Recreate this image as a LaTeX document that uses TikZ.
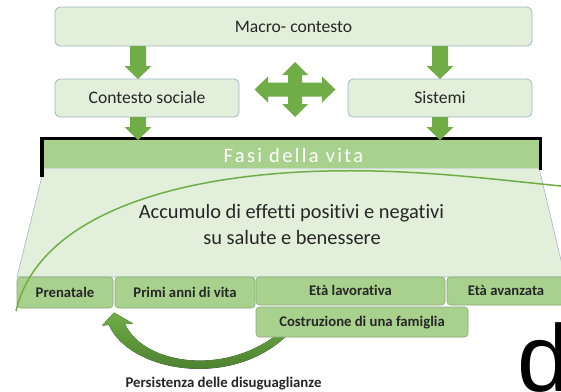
\documentclass[tikz,border=0pt]{standalone}
\usepackage{fontspec}
\setmainfont{Carlito}[Ligatures=NoCommon]
\newfontfamily\fasifont{Carlito}[LetterSpace=11.5, Ligatures=NoCommon]
\newfontfamily\bigsans{Liberation Sans}
\usetikzlibrary{calc}
\definecolor{lightfill}{HTML}{E2EFDA}
\definecolor{boxborder}{HTML}{A3B7CB}
\definecolor{arrowgreen}{HTML}{70AD47}
\definecolor{midgreen}{HTML}{A9D18E}
\definecolor{phaseborder}{HTML}{8AA87A}
\definecolor{textgray}{HTML}{262626}
\definecolor{darkarrow}{HTML}{3F7027}
\newcommand\blockdown[2]{%
  \fill[arrowgreen] let \p1=#1, \p2=#2 in
    (\x1-8pt,\y1) -- (\x1+8pt,\y1) -- (\x1+8pt,\y2+13pt) -- (\x1+13.5pt,\y2+13pt)
    -- (\x2,\y2) -- (\x1-13.5pt,\y2+13pt) -- (\x1-8pt,\y2+13pt) -- cycle;}
\tikzset{
  topbox/.style={draw=boxborder, line width=0.8pt, fill=lightfill, rounded corners=5pt,
    inner sep=0pt, outer sep=0pt, text=textgray,
    font=\fontsize{17.6}{20}\selectfont, text height=11.3pt, text depth=0pt},
  phasebox/.style={draw=phaseborder, line width=0.6pt, fill=midgreen, rounded corners=3.5pt,
    inner sep=0pt, outer sep=0pt, text=textgray,
    font=\bfseries\fontsize{14.7}{17}\selectfont, text height=9.5pt, text depth=0pt},
  plaintext/.style={inner sep=0pt, outer sep=0pt, text=textgray},
}
\begin{document}
\begin{tikzpicture}[x=1pt, y=-1pt]
\useasboundingbox (0,0) rectangle (561,391);
\clip (0,0) rectangle (561,391);
\fill[white] (0,0) rectangle (561,391);

% top boxes
\node[topbox, minimum width=477pt, minimum height=39pt] (macro) at (293.5,26.5) {Macro- contesto};
\node[topbox, minimum width=184pt, minimum height=38pt] (contesto) at (147,98) {Contesto sociale};
\node[topbox, minimum width=184pt, minimum height=38pt] (sistemi) at (440,98) {Sistemi};

% life-phase band
\fill[lightfill, draw=boxborder, line width=0.6pt] (44,168) -- (539,168) -- (565,277) -- (17,277) -- cycle;
\node[fill=midgreen, inner sep=0pt, outer sep=0pt, minimum width=498pt, minimum height=30pt] (fasibar) at (291.3,153) {};
\draw[black, line width=3.5pt, line join=miter] (42,177) -- (42,138.5) -- (540.5,138.5) -- (540.5,170);
\node[inner sep=0pt, text=white, font=\fasifont\fontsize{20.5}{24}\selectfont, text height=13.2pt, text depth=0pt] (fasitext) at (293.5,155.5) {Fasi della vita};

\node[plaintext, anchor=base, font=\fontsize{20.4}{24}\selectfont] (acc1) at (291.5,218) {Accumulo di effetti positivi e negativi};
\node[plaintext, anchor=base, font=\fontsize{20.4}{24}\selectfont] (acc2) at (292,244) {su salute e benessere};

% arrows between boxes
\coordinate (xl) at (138,0);
\coordinate (xr) at (440,0);
\blockdown{(macro.south -| xl)}{(contesto.north -| xl)}
\blockdown{(macro.south -| xr)}{(sistemi.north -| xr)}
\blockdown{(contesto.south -| xl)}{($(fasibar.north -| xl)+(0,2)$)}
\blockdown{(sistemi.south -| xr)}{($(fasibar.north -| xr)+(0,2)$)}

% four-way arrow
\coordinate (cross) at (295,89.5);
\begin{scope}[shift={(cross)}]
\fill[arrowgreen] (0,-27.5) -- (13,-14.5) -- (7,-14.5) -- (7,-7) -- (27,-7) -- (27,-13) -- (40.5,0)
  -- (27,13) -- (27,7) -- (7,7) -- (7,14.5) -- (13,14.5) -- (0,27.5) -- (-13,14.5) -- (-7,14.5)
  -- (-7,7) -- (-27,7) -- (-27,13) -- (-40.5,0) -- (-27,-13) -- (-27,-7) -- (-7,-7) -- (-7,-14.5)
  -- (-13,-14.5) -- cycle;
\end{scope}

% phases
\node[phasebox, minimum width=96pt, minimum height=31pt] (prenatale) at (65,292.5) {Prenatale};
\node[phasebox, minimum width=140pt, minimum height=31pt] (primi) at (185,292.5) {Primi anni di vita};
\node[phasebox, minimum width=189pt, minimum height=28pt] (lavorativa) at (350.5,291) {Età lavorativa};
\node[phasebox, minimum width=118pt, minimum height=28pt] (avanzata) at (506,291) {Età avanzata};

% thin curve
\coordinate (cend) at (561,186);
\draw[arrowgreen, line width=1.5pt] ($(prenatale.south west)+(-1,3)$) .. controls (36,225) and (150,180) .. (300,172)
  .. controls (400,167) and (480,178) .. (cend);

% curved arrow
\coordinate (ctip) at ($(prenatale.south east)!0.5!(primi.south west)+(0,4.5)$);
\begin{scope}[shift={(ctip)}]
\fill[top color=arrowgreen, bottom color=darkarrow]
  (177,19) .. controls (120,79) and (15,59) .. (-5,12.5) -- (-12,13) -- (0,0) -- (19,11) -- (11,11.5)
  .. controls (30,53) and (115,65) .. (169,17) -- cycle;
\end{scope}

\node[phasebox, minimum width=212pt, minimum height=30pt] (costruzione) at (362,322) {Costruzione di una famiglia};

\node[plaintext, font=\bfseries\fontsize{14.8}{17}\selectfont, text height=9.5pt, text depth=0pt] (persistenza) at (223.5,383) {Persistenza delle disuguaglianze};

\node[inner sep=0pt, outer sep=0pt, anchor=base west, font=\bigsans\fontsize{95}{100}\selectfont, text=black] (bigd) at (517,391) {d};
\end{tikzpicture}
\end{document}
